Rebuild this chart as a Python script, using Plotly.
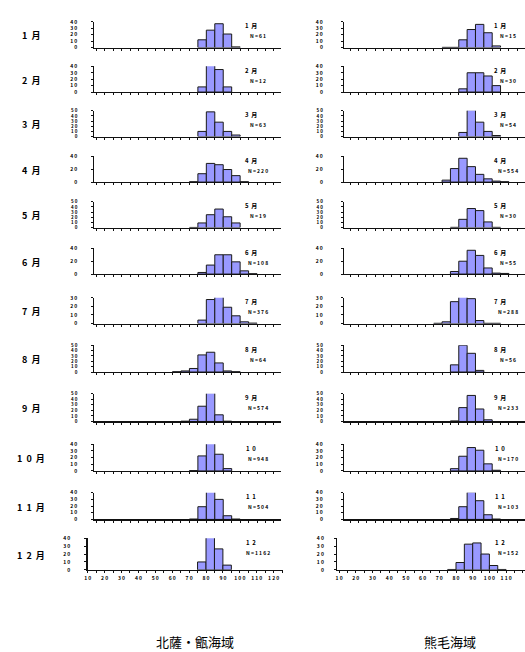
import plotly.graph_objects as go

W, H = 525, 652

# ---------------- data ----------------
bin_left = [60, 65, 70, 75, 80, 85, 90, 95, 100, 105, 110]
bin_centers = [b + 2.5 for b in bin_left]

month_labels = ["1 月", "2 月", "3 月", "4 月", "5 月", "6 月", "7 月", "8 月", "9 月", "1 0 月", "1 1 月", "1 2 月"]
panel_month = ["1 月", "2 月", "3 月", "4 月", "5 月", "6 月", "7 月", "8 月", "9 月", "1 0", "1 1", "1 2"]

left_n = ["61", "12", "63", "220", "19", "108", "376", "64", "574", "948", "504", "1162"]
right_n = ["15", "30", "54", "554", "30", "55", "288", "56", "233", "170", "103", "152"]

left_ymax = [40, 40, 50, 40, 50, 40, 30, 50, 50, 40, 40, 40]
left_dtick = [10, 10, 10, 20, 10, 20, 10, 10, 10, 10, 10, 10]
right_ymax = [40, 40, 50, 40, 50, 40, 30, 50, 50, 40, 40, 40]
right_dtick = [10, 10, 10, 20, 10, 20, 10, 10, 10, 10, 10, 10]

# percentage per 5-unit bin (bins 60..110); None = empty bin
N_ = None
left_vals = [
    [N_, N_, N_, 12, 27, 37, 21, 1, N_, N_, N_],
    [N_, N_, N_, 8, 43, 35, 8, N_, N_, N_, N_],
    [N_, N_, N_, 10, 48, 28, 10, 3, N_, N_, N_],
    [N_, N_, 0.5, 13, 29, 27, 19.5, 10, 0.5, N_, N_],
    [N_, N_, 0.3, 9, 25, 36, 21, 9, N_, N_, N_],
    [N_, N_, N_, 2.5, 14, 30, 30, 19, 5, 0.5, N_],
    [N_, N_, N_, 4, 28, 33, 19, 9, 2, 0.5, N_],
    [0.5, 2, 6.6, 32, 37, 17, 2, 0.5, N_, N_, N_],
    [N_, 0.5, 4, 27.5, 52, 12, 0.5, N_, N_, N_, N_],
    [N_, N_, 0.5, 22.5, 45, 25, 3.5, N_, N_, N_, N_],
    [N_, N_, 0.5, 19, 44, 30, 5.5, 0.5, N_, N_, N_],
    [N_, N_, N_, 10, 45, 26.5, 6, N_, N_, N_, N_],
]
right_vals = [
    [N_, N_, 0.3, 0.3, 12, 28, 36, 23, 2.5, N_, N_],
    [N_, N_, N_, N_, 5, 30, 30, 25, 10, N_, N_],
    [N_, N_, N_, N_, 8, 52, 28, 10, 2, N_, N_],
    [N_, N_, 3, 21, 37, 24, 12, 5, 1.5, 0.5, N_],
    [N_, N_, N_, 0.5, 16, 37, 33, 11, 0.5, N_, N_],
    [N_, N_, N_, 4, 20, 37, 29, 9.5, 1.5, 1, N_],
    [N_, 0.3, 2, 25.5, 32, 29, 3.5, 0.3, 0.3, N_, N_],
    [N_, N_, N_, 13.4, 50, 35, 3, N_, N_, N_, N_],
    [N_, N_, N_, 1, 25, 47, 22.5, 3, N_, N_, N_],
    [N_, N_, N_, 3.4, 22, 35, 31, 10.6, 1, N_, N_],
    [N_, N_, N_, 1.4, 19, 41, 28, 7, 0.5, N_, N_],
    [N_, N_, N_, 0.5, 9.3, 32.5, 34, 20, 5.5, 0.5, N_],
]
x_tick_vals = [10, 20, 30, 40, 50, 60, 70, 80, 90, 100, 110, 120]

# ---------------- layout geometry (pixels) ----------------
row_top = [18, 63, 108, 154, 200, 247, 297, 345, 394, 445, 494, 540]
row_base = [44, 89, 134, 180, 226, 273, 323, 372, 422, 472, 521, 572]

PX_PER_UNIT_L = 1.70
PX_PER_UNIT_R = 1.68
NB = "\u00a0"


def fx(px):
    return px / W


def fy(py):
    return 1 - py / H


def spaced(s, sep=" "):
    return sep.join(list(s))


FONT = "Noto Sans CJK JP"

fig = go.Figure()
layout = dict(
    width=W, height=H,
    margin=dict(l=0, r=0, t=0, b=0),
    paper_bgcolor="white", plot_bgcolor="white",
    showlegend=False, bargap=0,
    font=dict(family=FONT, color="black"),
)
annotations = []

k = 0
for side in ("L", "R"):
    for r in range(12):
        k += 1
        xa = "xaxis" if k == 1 else f"xaxis{k}"
        ya = "yaxis" if k == 1 else f"yaxis{k}"
        xref = "x" if k == 1 else f"x{k}"
        yref = "y" if k == 1 else f"y{k}"
        last = (r == 11)
        if side == "L":
            vals = left_vals[r]
            ymax = left_ymax[r]
            dt = left_dtick[r]
            nlab = left_n[r]
            ppu = PX_PER_UNIT_L
            if last:
                x0p, x1p, v0 = 85, 282, 9.9
            else:
                x0p, x1p = 92, 280
                v0 = 75 - (196 - 92) / ppu
            standoff = 13
            mx, nx = 249, 256
        else:
            vals = right_vals[r]
            ymax = right_ymax[r]
            dt = right_dtick[r]
            nlab = right_n[r]
            ppu = PX_PER_UNIT_R
            if last:
                x0p, x1p = 336, 525
                v0 = 10 - 2 / ppu
            else:
                x0p, x1p = 343, 525
                v0 = 75 - (450 - 343) / ppu
            standoff = 9 if last else 17
            mx, nx = 500, 508
        v1 = v0 + (x1p - x0p) / ppu

        fig.add_trace(go.Bar(
            x=bin_centers, y=vals, width=5,
            marker=dict(color="#9999ff", line=dict(color="#1a1a1a", width=1)),
            xaxis=xref, yaxis=yref, hoverinfo="skip",
        ))

        xdict = dict(
            domain=[fx(x0p), fx(x1p)], range=[v0, v1], anchor=yref,
            showgrid=False, zeroline=False, showline=True,
            linecolor="#111111", linewidth=1.2,
            ticks="outside", ticklen=2, tickwidth=1, tickcolor="#111111",
            fixedrange=True,
        )
        if last:
            xdict.update(
                tickmode="array", tickvals=x_tick_vals,
                ticktext=[spaced(str(v)) for v in x_tick_vals],
                tickfont=dict(size=5, family=FONT, weight="bold", color="black"),
                ticklabelstandoff=1,
                minor=dict(dtick=5, tick0=0, ticks="outside", ticklen=2, tickcolor="#111111"),
            )
        else:
            xdict.update(tickmode="linear", tick0=0, dtick=5, showticklabels=False)
        layout[xa] = xdict

        ticks_y = list(range(0, ymax + 1, dt))
        layout[ya] = dict(
            domain=[fy(row_base[r]), fy(row_top[r])], range=[0, ymax], anchor=xref,
            showgrid=False, zeroline=False, showline=True,
            linecolor="#111111", linewidth=1.2,
            ticks="outside", ticklen=2, tickwidth=1, tickcolor="#111111",
            tickmode="array", tickvals=ticks_y, ticktext=[spaced(str(v)) for v in ticks_y],
            tickfont=dict(size=5 if ymax < 50 else 4.5, family=FONT, weight="bold", color="black"),
            ticklabelstandoff=standoff,
            fixedrange=True,
        )

        annotations.append(dict(
            x=fx(mx), y=fy(row_top[r] + 4), xref="paper", yref="paper",
            text=panel_month[r].replace(" ", NB + NB), showarrow=False,
            font=dict(size=6, family=FONT, weight="bold", color="black"),
            xanchor="center", yanchor="middle",
        ))
        annotations.append(dict(
            x=fx(nx), y=fy(row_top[r] + 14), xref="paper", yref="paper",
            text=spaced("N=" + nlab, NB), showarrow=False,
            font=dict(size=5, family=FONT, weight="bold", color="black"),
            xanchor="center", yanchor="middle",
        ))

for r in range(12):
    annotations.append(dict(
        x=fx(28), y=fy((row_top[r] + row_base[r]) / 2 + 1), xref="paper", yref="paper",
        text=month_labels[r].replace(" ", NB + NB), showarrow=False,
        font=dict(size=9, family=FONT, weight="bold", color="black"),
        xanchor="center", yanchor="middle",
    ))

annotations.append(dict(x=fx(193), y=fy(644), xref="paper", yref="paper",
                        text="北薩・甑海域", showarrow=False,
                        font=dict(size=13, family=FONT, color="black"),
                        xanchor="center", yanchor="middle"))
annotations.append(dict(x=fx(450), y=fy(644), xref="paper", yref="paper",
                        text="熊毛海域", showarrow=False,
                        font=dict(size=13, family=FONT, color="black"),
                        xanchor="center", yanchor="middle"))

layout["annotations"] = annotations
fig.update_layout(**layout)
fig.write_html(
    "out.html",
    config={"displayModeBar": False, "staticPlot": True},
    post_script="document.body.style.margin='0';document.body.style.overflow='hidden';",
)
